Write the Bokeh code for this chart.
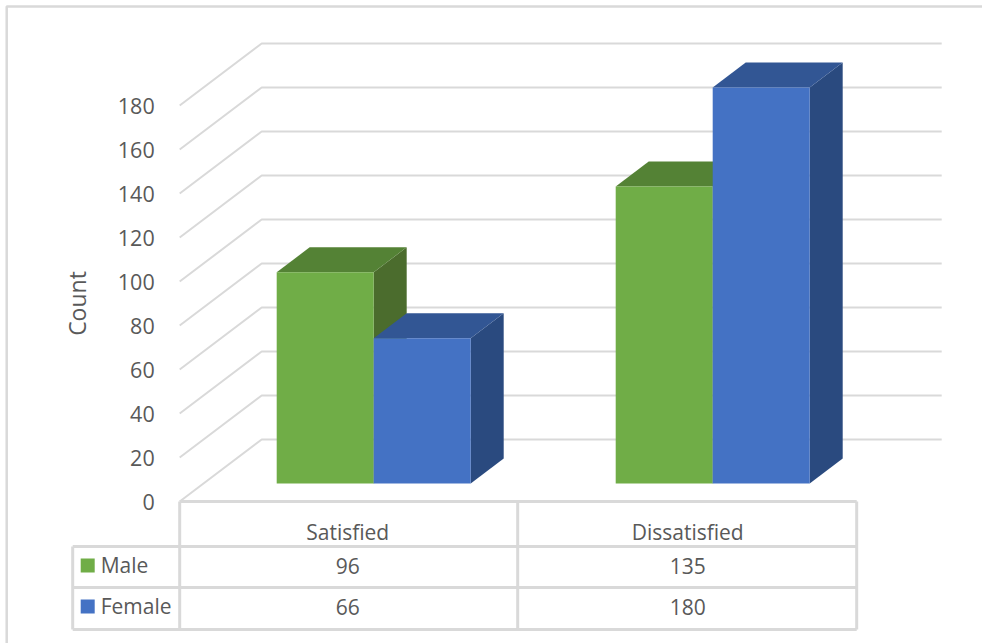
from bokeh.core.properties import value
from bokeh.embed import file_html
from bokeh.models import Range1d
from bokeh.plotting import figure
from bokeh.resources import INLINE

# Chart data
categories = ["Satisfied", "Dissatisfied"]
male = [96, 135]
female = [66, 180]
y_ticks = [0, 20, 40, 60, 80, 100, 120, 140, 160, 180]
y_title = "Count"
series_names = ["Male", "Female"]

# Page and projection geometry, in screen pixels
W, H = 982, 643
UNIT = 2.2                  # pixels per count
FLOOR_Y = 501               # screen row of the value 0 on the front edge
FONT = value("Open Sans")
TEXT = "#595959"
GRID = "#D9D9D9"
GREEN = ("#70AD47", "#548235", "#4B6C2D")   # front, top, side
BLUE = ("#4472C4", "#325694", "#2A4A7F")


def depth(px):
    """Vertical screen offset expressed in count units."""
    return px / UNIT


p = figure(
    width=W, height=H, output_backend="svg", toolbar_location=None,
    x_range=Range1d(0.8, W + 0.8),
    y_range=Range1d(-(H - FLOOR_Y) / UNIT, FLOOR_Y / UNIT),
    min_border=0, outline_line_color=None,
    background_fill_color="white", border_fill_color="white",
)
p.axis.visible = False
p.grid.visible = False
p.extra_y_ranges = {"screen": Range1d(H, 0)}


def chrome(xs, ys, width=3):
    p.line(xs, ys, y_range_name="screen", line_color=GRID, line_width=width)


# Outer chart frame
chrome([7, 7, W + 1], [H, 6, 6], 2.5)

# Side wall and back wall gridlines
WALL_X0, WALL_X1, WALL_X2 = 180, 262, 942
WALL_DROP = 62
for t in y_ticks:
    p.line([WALL_X0, WALL_X1, WALL_X2],
           [t, t + depth(WALL_DROP), t + depth(WALL_DROP)],
           line_color=GRID, line_width=2)

# Value labels on the vertical axis
p.text([155] * len(y_ticks), y_ticks, text=[str(t) for t in y_ticks],
       text_font=FONT, text_font_size="21.5px", text_color=TEXT,
       text_align="right", text_baseline="middle")
p.text([77], [303], text=[y_title], y_range_name="screen", angle=1.5708,
       text_font=FONT, text_font_size="23px", text_color=TEXT,
       text_align="center", text_baseline="middle")

# Extruded columns
GROUP_LEFT = [277, 616]
BAR_W = 97
DX, DY = 33, 25
BASE = depth(FLOOR_Y - 483)


def column(x0, v, colours):
    front, top, side = colours
    x1 = x0 + BAR_W
    h = BASE + v
    back = depth(DY)
    p.patch([x1, x1 + DX, x1 + DX, x1],
            [BASE, BASE + back, h + back, h],
            fill_color=side, line_color=None)
    p.patch([x0, x0 + DX, x1 + DX, x1],
            [h, h + back, h + back, h],
            fill_color=top, line_color=None)
    p.quad(left=[x0], right=[x1], bottom=[BASE], top=[h],
           fill_color=front, line_color=None)


for i in range(len(categories)):
    column(GROUP_LEFT[i], male[i], GREEN)
    column(GROUP_LEFT[i] + BAR_W, female[i], BLUE)

# Data table under the plot
COL = [73, 180, 518, 857]
ROW = [501, 546, 587, 629]
chrome([COL[1], COL[3]], [ROW[0], ROW[0]])
chrome([COL[0], COL[3]], [ROW[1], ROW[1]])
chrome([COL[0], COL[3]], [ROW[2], ROW[2]])
chrome([COL[0], COL[3]], [ROW[3], ROW[3]])
chrome([COL[0], COL[0]], [ROW[1], ROW[3]])
for c in COL[1:]:
    chrome([c, c], [ROW[0], ROW[3]])

centers = [(COL[1] + COL[2]) / 2 - 1, (COL[2] + COL[3]) / 2 + 0.5]
for xs, ys, labels in (
    (centers, [531, 531], categories),
    (centers, [565, 565], [str(v) for v in male]),
    (centers, [606, 606], [str(v) for v in female]),
):
    p.text(xs, ys, text=labels, y_range_name="screen",
           text_font=FONT, text_font_size="21px", text_color=TEXT,
           text_align="center", text_baseline="middle")

# Legend keys inside the table
for name, colour, cy in zip(series_names, (GREEN[0], BLUE[0]), (565, 606)):
    p.quad(left=[81], right=[95], bottom=[cy + 7], top=[cy - 7],
           y_range_name="screen", fill_color=colour, line_color=None)
    p.text([101], [cy - 1], text=[name], y_range_name="screen",
           text_font=FONT, text_font_size="21px", text_color=TEXT,
           text_align="left", text_baseline="middle")

open("out.html", "w").write(file_html(p, INLINE))
